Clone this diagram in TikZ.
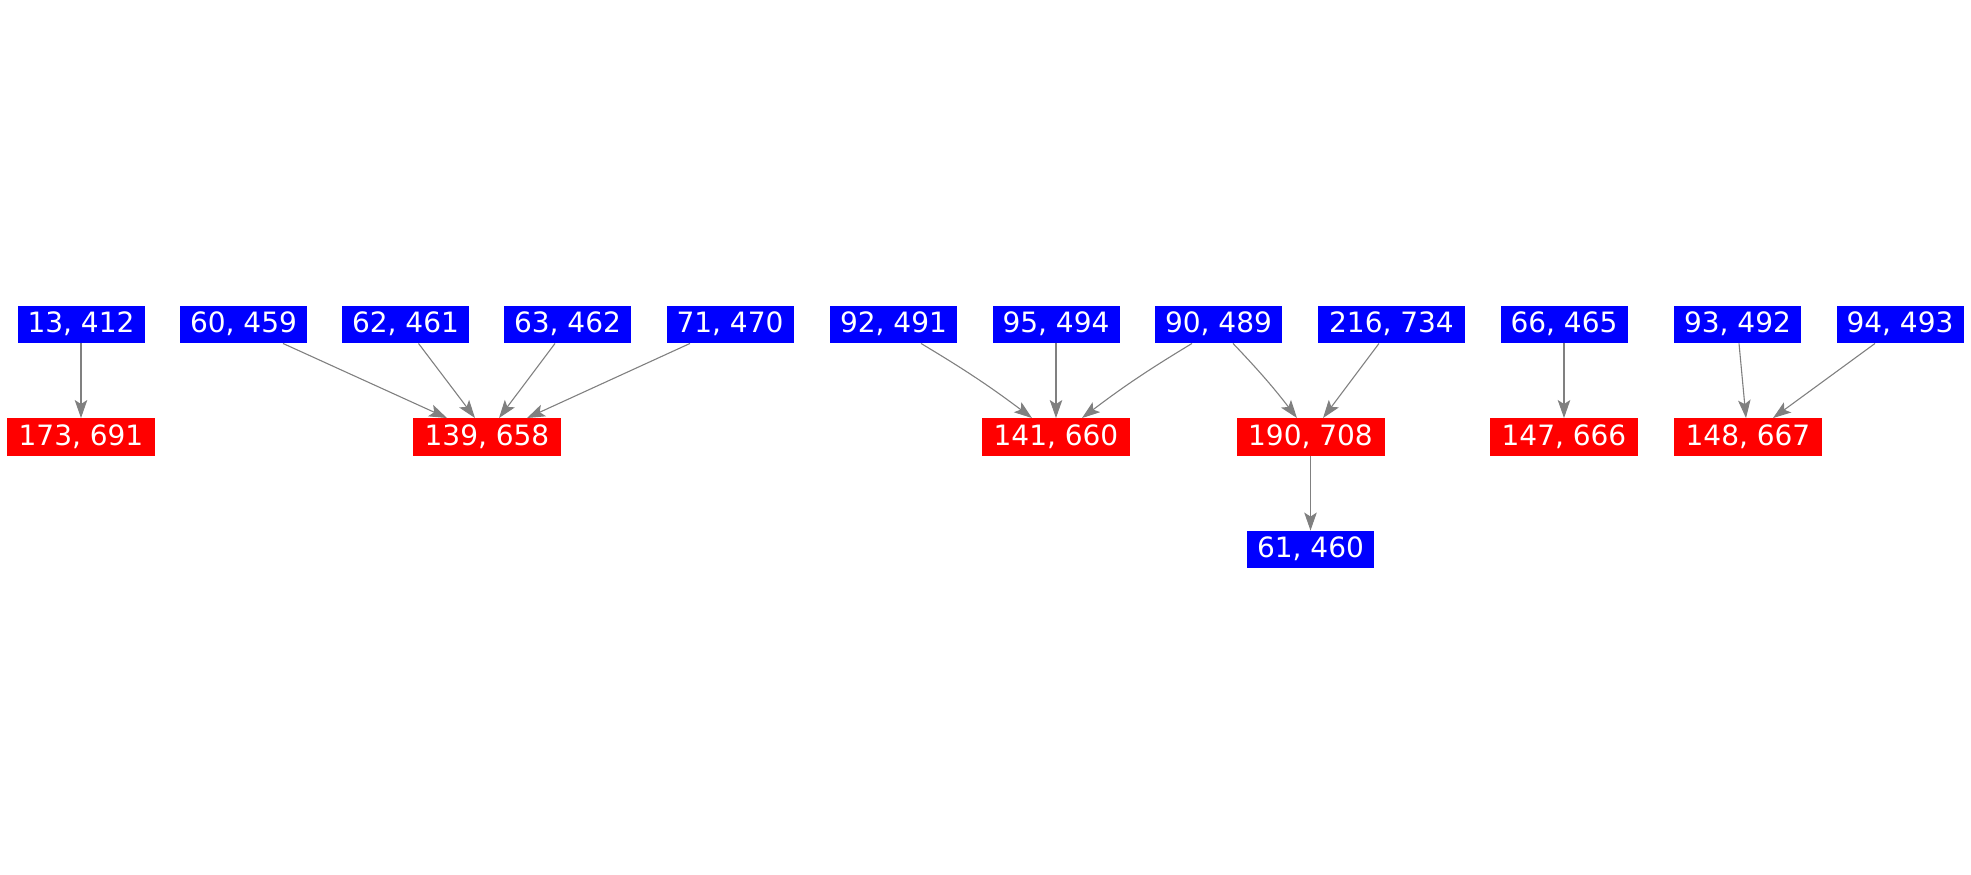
\documentclass[tikz,border=0pt]{standalone}
\usepackage{fontspec}
\setmainfont{DejaVu Sans}
\usetikzlibrary{arrows.meta}
\definecolor{edgegray}{HTML}{808080}
\tikzset{
  box/.style={inner sep=0pt, minimum height=37.5pt, text=white,
    font=\fontsize{28}{34}\selectfont, text height=20.4pt, text depth=4pt},
  bluebox/.style={box, fill={rgb,255:red,0;green,0;blue,255}, minimum width=127pt},
  redbox/.style={box, fill={rgb,255:red,255;green,0;blue,0}, minimum width=148pt},
  edge/.style={draw=edgegray, line width=1.1pt,
    -{Stealth[length=18pt, width=12.5pt, inset=4pt]}}
}
\begin{document}
\begin{tikzpicture}[x=1pt, y=-1pt]
\useasboundingbox (0,0) rectangle (1971,875);
% top row (blue)
\node[bluebox] (b13)  at (81,324.5)   {13, 412};
\node[bluebox] (b60)  at (243.5,324.5) {60, 459};
\node[bluebox] (b62)  at (405.5,324.5) {62, 461};
\node[bluebox] (b63)  at (567.5,324.5) {63, 462};
\node[bluebox] (b71)  at (730,324.5)   {71, 470};
\node[bluebox] (b92)  at (893.5,324.5) {92, 491};
\node[bluebox] (b95)  at (1056,324.5)  {95, 494};
\node[bluebox] (b90)  at (1218.5,324.5) {90, 489};
\node[bluebox, minimum width=147pt] (b216) at (1391.5,324.5) {216, 734};
\node[bluebox] (b66)  at (1564,324.5)  {66, 465};
\node[bluebox] (b93)  at (1737.5,324.5) {93, 492};
\node[bluebox] (b94)  at (1900,324.5)  {94, 493};
% middle row (red)
\node[redbox] (r173) at (81,437)     {173, 691};
\node[redbox] (r139) at (487,437)    {139, 658};
\node[redbox] (r141) at (1056,437)   {141, 660};
\node[redbox] (r190) at (1310.5,437) {190, 708};
\node[redbox] (r147) at (1564,437)   {147, 666};
\node[redbox] (r148) at (1748,437)   {148, 667};
% bottom
\node[bluebox] (b61) at (1310.5,549.5) {61, 460};
% edges
\draw[edge] (b13.south) -- (r173.north);
\draw[edge] ([xshift=39.5pt]b60.south) -- ([xshift=-40pt]r139.north);
\draw[edge] ([xshift=13pt]b62.south) -- ([xshift=-12pt]r139.north);
\draw[edge] ([xshift=-12.5pt]b63.south) -- ([xshift=12pt]r139.north);
\draw[edge] ([xshift=-40pt]b71.south) -- ([xshift=40pt]r139.north);
\draw[edge] ([xshift=27.5pt]b92.south) to[bend left=3] ([xshift=-24pt]r141.north);
\draw[edge] (b95.south) -- (r141.north);
\draw[edge] ([xshift=-26.5pt]b90.south) to[bend right=3] ([xshift=26pt]r141.north);
\draw[edge] ([xshift=14.5pt]b90.south) to[bend left=3] ([xshift=-13.5pt]r190.north);
\draw[edge] ([xshift=-12.5pt]b216.south) -- ([xshift=12.5pt]r190.north);
\draw[edge] (r190.south) -- (b61.north);
\draw[edge] (b66.south) -- (r147.north);
\draw[edge] ([xshift=1.5pt]b93.south) -- ([xshift=-2pt]r148.north);
\draw[edge] ([xshift=-25pt]b94.south) -- ([xshift=25pt]r148.north);
\end{tikzpicture}
\end{document}
